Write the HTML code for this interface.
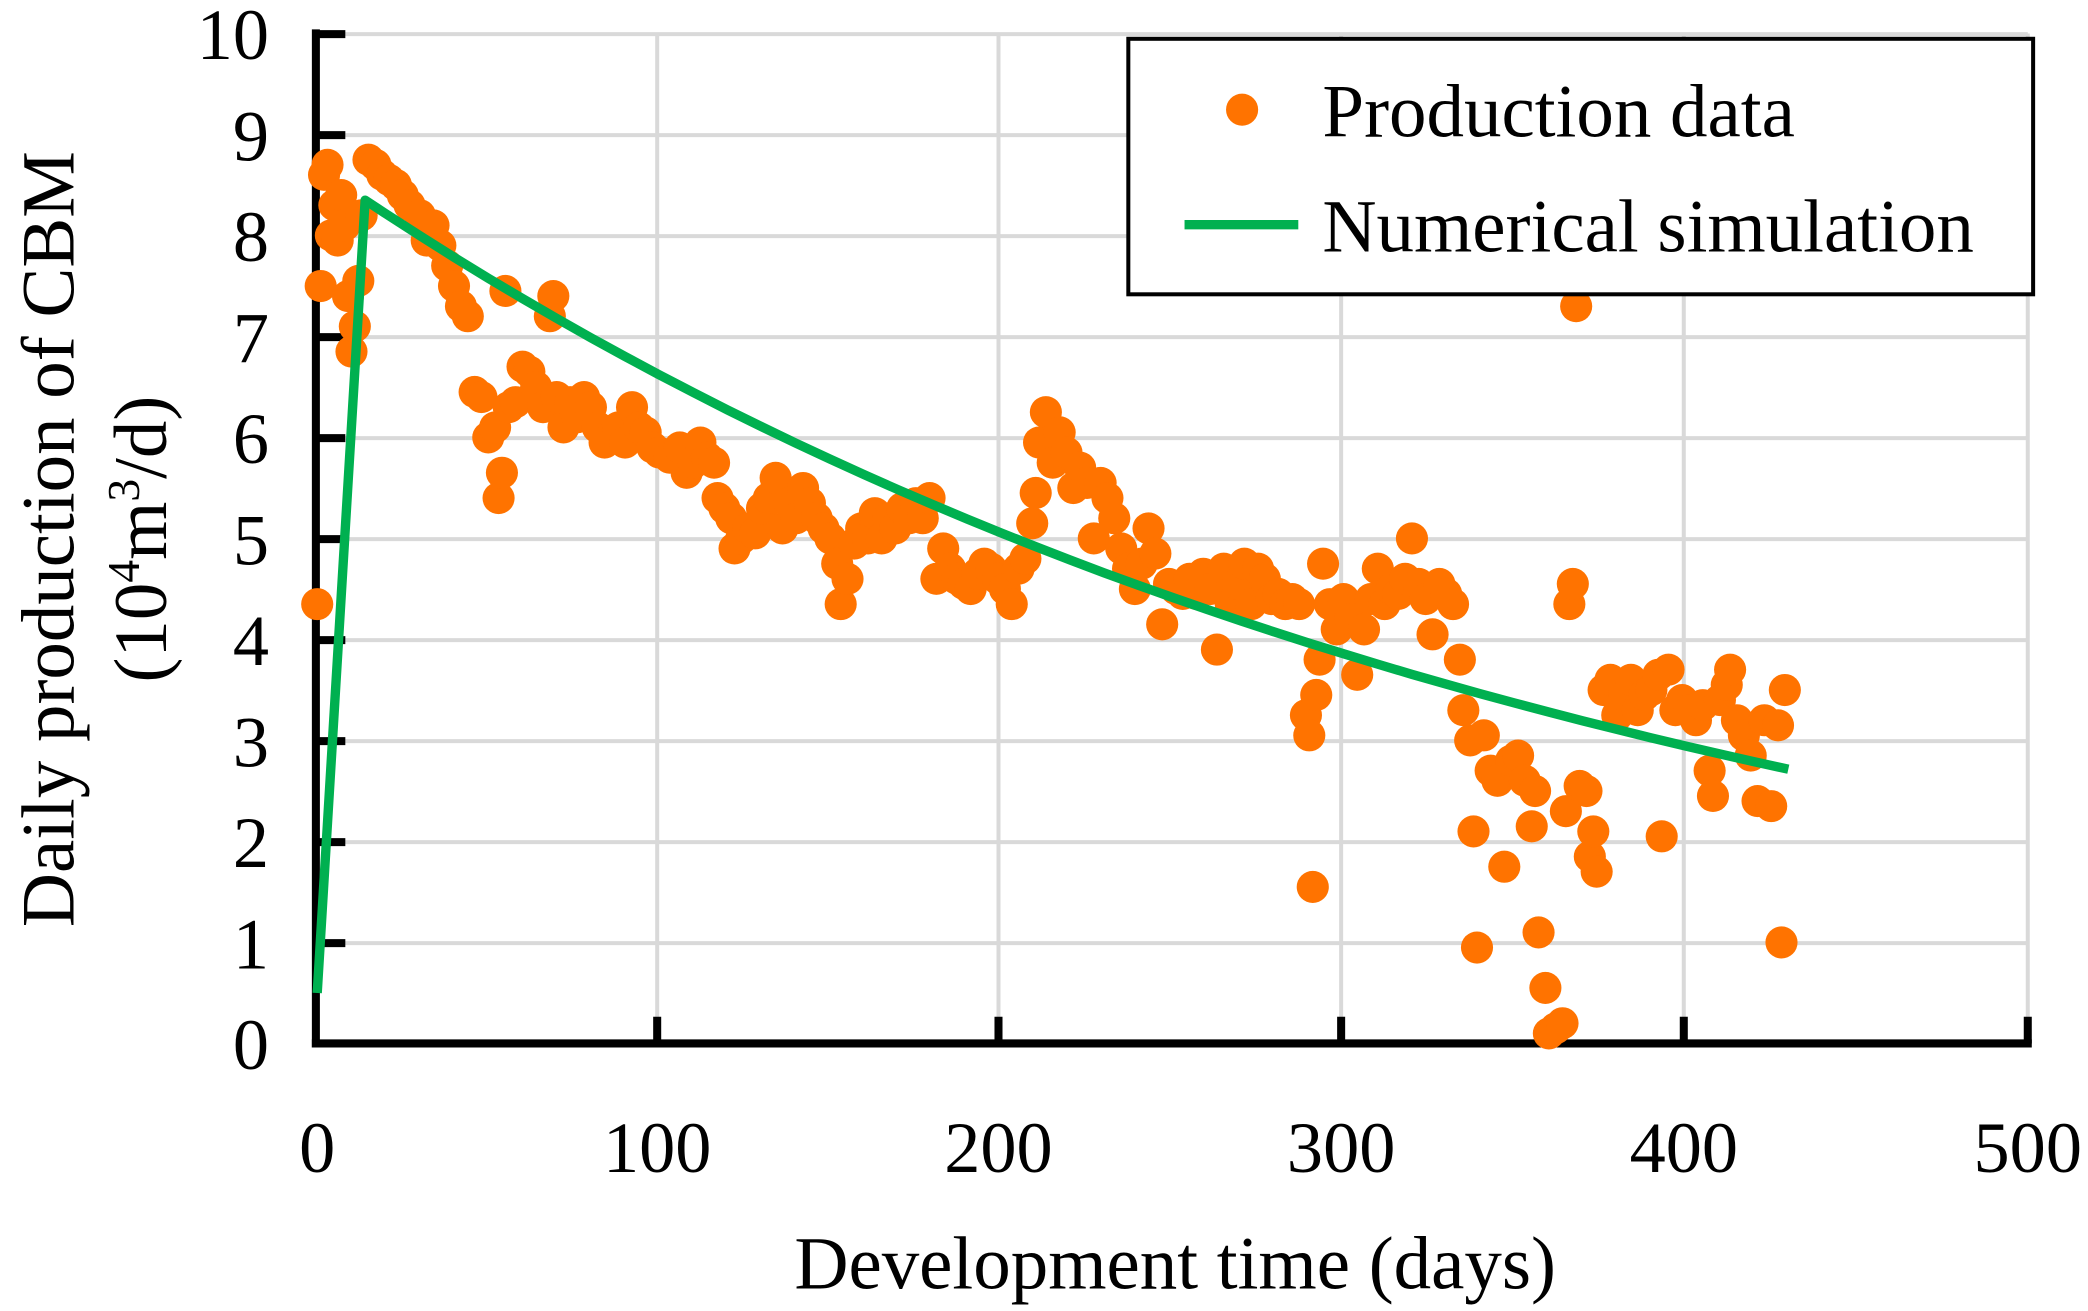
<!DOCTYPE html>
<html><head><meta charset="utf-8"><style>
html,body{margin:0;padding:0;background:#fff;}
svg{display:block;}
text{font-family:"Liberation Serif",serif;fill:#000;}
</style></head><body>
<svg id="s" width="2088" height="1311" viewBox="0 0 1560 980" preserveAspectRatio="none" xmlns="http://www.w3.org/2000/svg">
<g stroke="#d9d9d9" stroke-width="3">
<line x1="237" y1="25.5" x2="1515" y2="25.5"/>
<line x1="237" y1="101" x2="1515" y2="101"/>
<line x1="237" y1="176.5" x2="1515" y2="176.5"/>
<line x1="237" y1="252" x2="1515" y2="252"/>
<line x1="237" y1="327.5" x2="1515" y2="327.5"/>
<line x1="237" y1="403" x2="1515" y2="403"/>
<line x1="237" y1="478.5" x2="1515" y2="478.5"/>
<line x1="237" y1="554" x2="1515" y2="554"/>
<line x1="237" y1="629.5" x2="1515" y2="629.5"/>
<line x1="237" y1="705" x2="1515" y2="705"/>
<line x1="491" y1="25" x2="491" y2="780"/>
<line x1="746" y1="25" x2="746" y2="780"/>
<line x1="1002" y1="25" x2="1002" y2="780"/>
<line x1="1258" y1="25" x2="1258" y2="780"/>
<line x1="1515" y1="25" x2="1515" y2="780"/>
</g>
<g stroke="#000" stroke-width="6">
<line x1="236" y1="22" x2="236" y2="783"/>
<line x1="233" y1="780" x2="1518" y2="780"/>
<line x1="236" y1="25.5" x2="258" y2="25.5"/>
<line x1="236" y1="101" x2="258" y2="101"/>
<line x1="236" y1="176.5" x2="258" y2="176.5"/>
<line x1="236" y1="252" x2="258" y2="252"/>
<line x1="236" y1="327.5" x2="258" y2="327.5"/>
<line x1="236" y1="403" x2="258" y2="403"/>
<line x1="236" y1="478.5" x2="258" y2="478.5"/>
<line x1="236" y1="554" x2="258" y2="554"/>
<line x1="236" y1="629.5" x2="258" y2="629.5"/>
<line x1="236" y1="705" x2="258" y2="705"/>
<line x1="491" y1="780" x2="491" y2="760"/>
<line x1="746" y1="780" x2="746" y2="760"/>
<line x1="1002" y1="780" x2="1002" y2="760"/>
<line x1="1258" y1="780" x2="1258" y2="760"/>
<line x1="1515" y1="780" x2="1515" y2="760"/>
</g>
<g id="pts" fill="#ff7300"></g>
<polyline id="sim" fill="none" stroke="#00b050" stroke-width="7" stroke-linejoin="round"/>
<g font-size="54" text-anchor="end">
<text x="201" y="44">10</text><text x="201" y="120">9</text><text x="201" y="195">8</text><text x="201" y="271">7</text><text x="201" y="346">6</text><text x="201" y="422">5</text><text x="201" y="497">4</text><text x="201" y="573">3</text><text x="201" y="648">2</text><text x="201" y="724">1</text><text x="201" y="799">0</text>
</g>
<g font-size="54" text-anchor="middle">
<text x="237" y="876">0</text><text x="491" y="876">100</text><text x="746" y="876">200</text><text x="1002" y="876">300</text><text x="1258" y="876">400</text><text x="1515" y="876">500</text>
<text x="878" y="963" font-size="56">Development time (days)</text>
<text transform="translate(55,403) rotate(-90)" font-size="56">Daily production of CBM</text>
<text transform="translate(124,403) rotate(-90)" font-size="56">(10<tspan font-size="34" dy="-20">4</tspan><tspan dy="20">m</tspan><tspan font-size="34" dy="-20">3</tspan><tspan dy="20">/d)</tspan></text>
</g>
<rect x="843" y="29" width="676" height="191" fill="#fff" stroke="#000" stroke-width="3"/>
<circle cx="928" cy="82" r="12" fill="#ff7300"/>
<line x1="885" y1="168" x2="970" y2="168" stroke="#00b050" stroke-width="7"/>
<text x="988" y="102" font-size="56">Production data</text>
<text x="988" y="188" font-size="56">Numerical simulation</text>
</svg>
<script>
var d=[[0,4.35],[1,7.5],[2,8.6],[3,8.7],[4,8.0],[5,8.3],[6,7.95],[7,8.4],[8,8.1],[9,7.4],[10,6.85],[11,7.1],[12,7.55],[13,8.2],[15,8.75],[17,8.7],[19,8.6],[21,8.55],[23,8.5],[25,8.4],[27,8.3],[30,8.2],[32,7.95],[34,8.1],[36,7.9],[38,7.7],[40,7.5],[42,7.3],[44,7.2],[46,6.45],[48,6.4],[50,6.0],[52,6.1],[53,5.4],[54,5.65],[55,7.45],[56,6.3],[58,6.35],[60,6.7],[62,6.65],[64,6.5],[66,6.3],[68,7.2],[69,7.4],[70,6.4],[72,6.1],[74,6.35],[76,6.2],[78,6.4],[80,6.3],[82,6.1],[84,5.95],[86,6.0],[88,6.1],[90,5.95],[92,6.3],[94,6.1],[96,6.05],[98,5.9],[100,5.85],[103,5.8],[106,5.9],[108,5.65],[110,5.75],[112,5.95],[114,5.8],[116,5.75],[117,5.4],[119,5.3],[121,5.2],[122,4.9],[124,5.0],[126,5.1],[128,5.05],[130,5.3],[132,5.4],[134,5.6],[136,5.1],[138,5.35],[140,5.2],[142,5.5],[144,5.35],[146,5.2],[148,5.1],[150,5.0],[152,4.75],[153,4.35],[155,4.6],[157,4.95],[159,5.1],[161,5.0],[163,5.25],[165,5.0],[167,5.2],[169,5.1],[171,5.3],[173,5.2],[175,5.35],[177,5.2],[179,5.4],[181,4.6],[183,4.9],[185,4.7],[187,4.6],[189,4.55],[191,4.5],[193,4.65],[195,4.75],[197,4.7],[199,4.6],[201,4.5],[203,4.35],[205,4.7],[207,4.8],[209,5.15],[210,5.45],[211,5.95],[213,6.25],[215,5.75],[217,6.05],[219,5.85],[221,5.5],[223,5.7],[225,5.55],[227,5.0],[229,5.55],[231,5.4],[233,5.2],[235,4.9],[237,4.7],[239,4.5],[241,4.75],[243,5.1],[245,4.85],[247,4.15],[249,4.55],[251,4.5],[253,4.45],[255,4.6],[257,4.45],[259,4.65],[261,4.5],[263,3.9],[265,4.7],[267,4.35],[269,4.55],[271,4.75],[273,4.35],[275,4.7],[277,4.6],[279,4.4],[281,4.45],[283,4.35],[285,4.4],[287,4.35],[289,3.25],[290,3.05],[291,1.55],[292,3.45],[293,3.8],[294,4.75],[296,4.35],[298,4.1],[300,4.4],[302,4.2],[304,3.65],[306,4.1],[308,4.4],[310,4.7],[312,4.35],[314,4.5],[316,4.45],[318,4.6],[320,5.0],[322,4.55],[324,4.4],[326,4.05],[328,4.55],[330,4.45],[332,4.35],[334,3.8],[335,3.3],[337,3.0],[338,2.1],[339,0.95],[341,3.05],[343,2.7],[345,2.6],[347,1.75],[349,2.8],[351,2.85],[353,2.6],[355,2.15],[356,2.5],[357,1.1],[359,0.55],[360,0.1],[362,0.15],[364,0.2],[365,2.3],[366,4.35],[367,4.55],[368,7.3],[369,2.55],[371,2.5],[372,1.85],[373,2.1],[374,1.7],[376,3.5],[378,3.6],[380,3.25],[382,3.45],[384,3.6],[386,3.3],[388,3.45],[390,3.5],[392,3.65],[393,2.05],[395,3.7],[397,3.3],[399,3.4],[401,3.3],[403,3.2],[405,3.35],[407,2.7],[408,2.45],[410,3.4],[412,3.55],[413,3.7],[415,3.2],[417,3.05],[419,2.85],[421,2.4],[423,3.2],[425,2.35],[427,3.15],[428,1.0],[429,3.5]];
function X(t){return 237+t*2.556;}function Y(v){return 780-v*75.5;}
var g=document.getElementById('pts'),h='';
d.forEach(function(p){h+='<circle cx="'+X(p[0]).toFixed(1)+'" cy="'+Y(p[1]).toFixed(1)+'" r="12"/>';});
g.innerHTML=h;
var s=[[0,0.5],[14,8.35]];
for(var t=20;t<=430;t+=10){s.push([t,8.35*Math.exp(-0.0027*(t-14))]);}
document.getElementById('sim').setAttribute('points',s.map(function(p){return X(p[0]).toFixed(1)+','+Y(p[1]).toFixed(1);}).join(' '));
</script>
</body></html>
